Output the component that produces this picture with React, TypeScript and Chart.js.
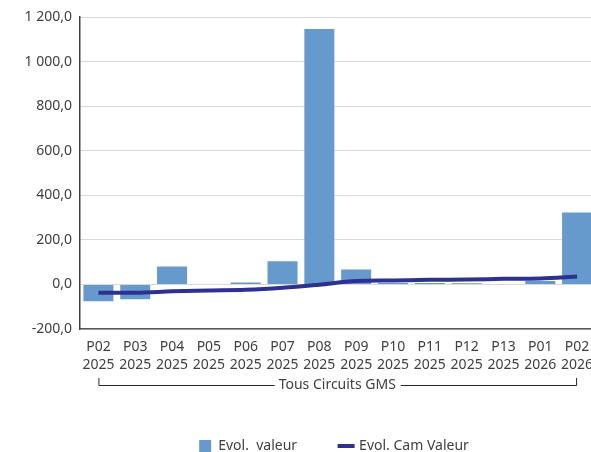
import React, { useEffect, useRef } from "react";
import { Chart, registerables } from "chart.js";

Chart.register(...registerables);

const periods = ["P02", "P03", "P04", "P05", "P06", "P07", "P08", "P09", "P10", "P11", "P12", "P13", "P01", "P02"];
const years = ["2025", "2025", "2025", "2025", "2025", "2025", "2025", "2025", "2025", "2025", "2025", "2025", "2026", "2026"];
const evolValeur = [-75, -66, 81, 2, 9, 104, 1146, 67, 6, 6, 5, 2, 15, 323];
const evolCamValeur = [-37, -37, -31, -27, -24, -15, -1, 15, 18, 21, 22, 25, 27, 36];
const groupLabel = "Tous Circuits GMS";
const seriesNames = ["Evol.  valeur", "Evol. Cam Valeur"];

const FONT = "'Noto Sans', sans-serif";
const TEXT = "#404040";
const CANVAS_W = 668;
const CANVAS_H = 463;
const PLOT_RIGHT = 595.5;

function fmt(v: number): string {
  const neg = v < 0;
  const s = Math.abs(v).toFixed(1);
  const [int, dec] = s.split(".");
  const withSep = int.replace(/\B(?=(\d{3})+(?!\d))/g, " ");
  return (neg ? "-" : "") + withSep + "," + dec;
}

const groupPlugin = {
  id: "groupBracket",
  afterDraw(chart: any) {
    const x = chart.scales.x;
    const ctx = chart.ctx;
    const x0 = x.getPixelForValue(0);
    const x1 = x.getPixelForValue(periods.length - 1) - 1;
    const y = 385;
    ctx.save();
    ctx.font = `14px ${FONT}`;
    const tw = ctx.measureText(groupLabel).width;
    const cx = (x0 + x1) / 2;
    ctx.strokeStyle = "#262626";
    ctx.lineWidth = 1;
    ctx.beginPath();
    ctx.moveTo(x0 + 0.5, y - 7);
    ctx.lineTo(x0 + 0.5, y + 0.5);
    ctx.lineTo(cx - tw / 2 - 4, y + 0.5);
    ctx.moveTo(cx + tw / 2 + 5, y + 0.5);
    ctx.lineTo(x1 + 0.5, y + 0.5);
    ctx.lineTo(x1 + 0.5, y - 7);
    ctx.stroke();
    ctx.fillStyle = TEXT;
    ctx.textAlign = "center";
    ctx.textBaseline = "middle";
    ctx.fillText(groupLabel, cx, y);
    ctx.restore();
  },
};

export default function App() {
  const ref = useRef<HTMLCanvasElement>(null);
  useEffect(() => {
    if (!ref.current) return;
    const chart = new Chart(ref.current, {
      type: "bar",
      data: {
        labels: periods.map((p, i) => [p, years[i]]),
        datasets: [
          {
            type: "bar",
            label: seriesNames[0],
            data: evolValeur,
            backgroundColor: "#6699CC",
            borderWidth: 0,
            barPercentage: 0.815,
            categoryPercentage: 1,
            order: 1,
            pointStyle: "rect",
          } as any,
          {
            type: "line",
            label: seriesNames[1],
            data: evolCamValeur,
            borderColor: "#2E3192",
            backgroundColor: "#2E3192",
            borderWidth: 4,
            pointRadius: 0,
            tension: 0.35,
            cubicInterpolationMode: "monotone",
            order: 0,
            pointStyle: "line",
          } as any,
        ],
      },
      options: {
        animation: false,
        responsive: false,
        layout: { padding: { top: 17, left: 0, right: 0, bottom: 0 } },
        plugins: {
          legend: {
            position: "bottom",
            labels: {
              usePointStyle: true,
              boxWidth: 12,
              boxHeight: 12,
              padding: 43,
              color: TEXT,
              font: { family: FONT, size: 14 },
              sort: (a: any, b: any) => a.datasetIndex - b.datasetIndex,
            },
          },
          tooltip: { enabled: false },
        },
        scales: {
          x: {
            grid: { display: false, drawTicks: false },
            border: { display: true, color: "#595959", width: 1.5 },
            ticks: {
              color: TEXT,
              font: { family: FONT, size: 14, lineHeight: 1.3 },
              padding: 9,
              maxRotation: 0,
              autoSkip: false,
            },
            afterFit(scale: any) {
              scale.height = 67;
              scale.paddingLeft = 0;
              scale.paddingRight = CANVAS_W - PLOT_RIGHT;
            },
          },
          y: {
            min: -200,
            max: 1200,
            grid: { color: "#d9d9d9", lineWidth: 1, drawTicks: false },
            border: { display: true, color: "#404040", width: 1.5 },
            ticks: {
              stepSize: 200,
              color: TEXT,
              padding: 8,
              font: { family: FONT, size: 14 },
              callback: (v: any) => fmt(Number(v)),
            },
            afterFit(scale: any) {
              scale.width = 80;
              scale.paddingTop = 0;
              scale.paddingBottom = 0;
            },
          },
        },
      },
      plugins: [groupPlugin],
    });
    return () => chart.destroy();
  }, []);
  return (
    <div style={{ position: "absolute", left: 0, top: 0, width: 591, height: 452, overflow: "hidden", background: "#fff" }}>
      <canvas ref={ref} width={CANVAS_W} height={CANVAS_H} style={{ width: CANVAS_W, height: CANVAS_H, display: "block" }} />
    </div>
  );
}
